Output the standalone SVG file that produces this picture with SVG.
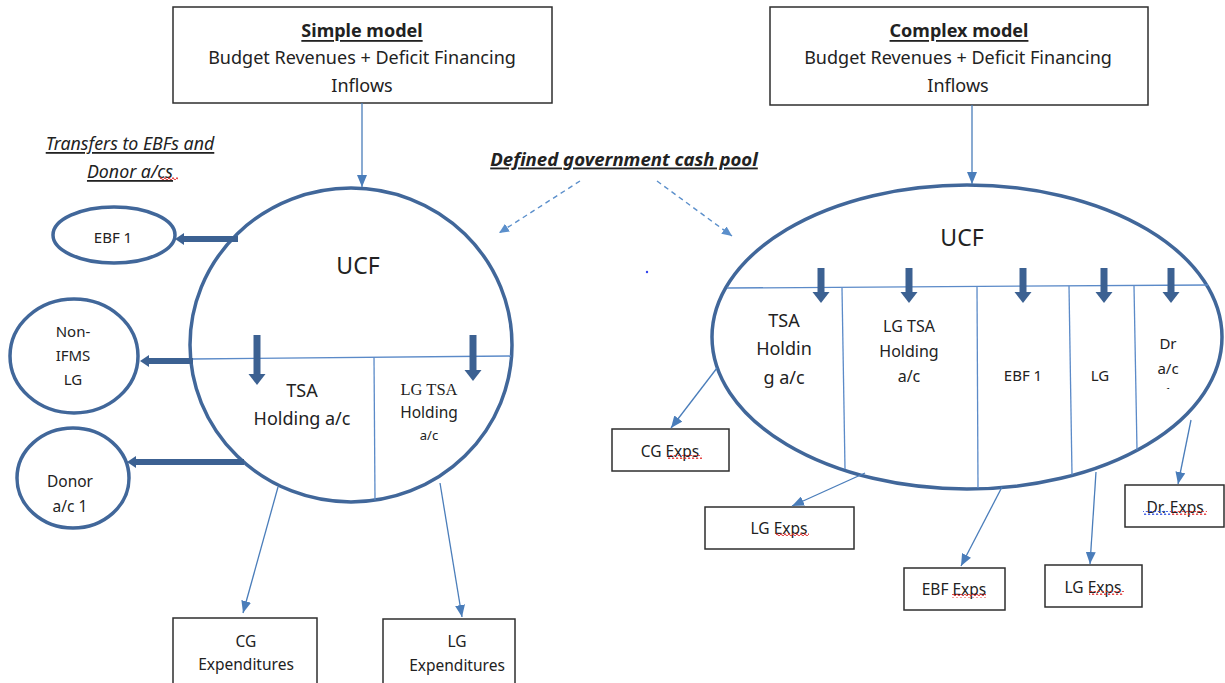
<svg xmlns="http://www.w3.org/2000/svg" width="1225" height="683" viewBox="0 0 1225 683">
<defs>
<style>
text{font-family:"Noto Sans","Open Sans",sans-serif;fill:#222;text-anchor:middle;dominant-baseline:central;font-size:15px}
.box{fill:#fff;stroke:#2e2e2e;stroke-width:1.5}
.ring{fill:#fff;stroke:#41679A;stroke-width:3.5}
.thin{fill:none;stroke:#4A7DBA;stroke-width:1.3}
.div{fill:none;stroke:#5B8AC8;stroke-width:1.3}
.thick{fill:none;stroke:#3C6192;stroke-width:7}
.side{fill:none;stroke:#3C6192;stroke-width:6}
.dash{fill:none;stroke:#5B8FCB;stroke-width:1.4;stroke-dasharray:5 4}
.ttl{font-weight:bold;text-decoration:underline;font-size:18px}
.big{font-size:18px}
.ucf{font-size:23px}
.it{font-style:italic;text-decoration:underline;font-size:17.8px}
.pool{font-style:italic;font-weight:bold;text-decoration:underline;font-size:18.6px}
.serif{font-family:"Liberation Serif",serif;font-size:16.5px}
</style>
<marker id="ah" markerUnits="userSpaceOnUse" markerWidth="12" markerHeight="10" refX="12" refY="5" orient="auto"><path d="M0,0 L12,5 L0,10 z" fill="#4A7DBA"/></marker>
<marker id="ahd" markerUnits="userSpaceOnUse" markerWidth="10" markerHeight="9" refX="10" refY="4.5" orient="auto"><path d="M0,0 L10,4.5 L0,9 z" fill="#5B8FCB"/></marker>
<marker id="hd" markerUnits="userSpaceOnUse" markerWidth="11" markerHeight="17" refX="0" refY="8.5" orient="auto" overflow="visible"><path d="M0,0 L11,8.5 L0,17 z" fill="#3C6192"/></marker>
<marker id="hs" markerUnits="userSpaceOnUse" markerWidth="9" markerHeight="12" refX="0" refY="6" orient="auto" overflow="visible"><path d="M0,0 L9,6 L0,12 z" fill="#3C6192"/></marker>
<pattern id="wr" width="4" height="4" patternUnits="userSpaceOnUse"><path d="M0,3 Q1,0 2,3 T4,3" fill="none" stroke="#e02828" stroke-width="1"/></pattern>
<pattern id="wb" width="4" height="4" patternUnits="userSpaceOnUse"><path d="M0,3 Q1,0 2,3 T4,3" fill="none" stroke="#2848e0" stroke-width="1"/></pattern>
<clipPath id="clip1"><rect x="1150" y="380" width="40" height="9"/></clipPath>
</defs>
<rect width="1225" height="683" fill="#fff"/>

<g id="simple-model">
<rect class="box" x="173" y="7" width="379" height="96"/>
<text class="ttl" x="362" y="30">Simple model</text>
<text class="big" x="362" y="57">Budget Revenues + Deficit Financing</text>
<text class="big" x="362" y="85">Inflows</text>
</g>
<g id="complex-model">
<rect class="box" x="770" y="7" width="378" height="98"/>
<text class="ttl" x="959" y="30">Complex model</text>
<text class="big" x="958" y="57">Budget Revenues + Deficit Financing</text>
<text class="big" x="958" y="85">Inflows</text>
</g>

<g id="transfers-label">
<text class="it" x="130" y="143">Transfers to EBFs and</text>
<text class="it" x="130" y="171">Donor a/cs</text>
<rect x="160" y="177" width="18" height="4" fill="url(#wr)"/>
</g>
<g id="pool-label">
<text class="pool" x="624" y="158">Defined government cash pool</text>
</g>
<circle cx="647" cy="272" r="1.2" fill="#3344ee"/>

<g id="ucf-simple">
<ellipse class="ring" cx="351" cy="345" rx="161" ry="157"/>
<line class="div" x1="192" y1="359" x2="511" y2="356"/>
<line class="div" x1="374" y1="357" x2="375" y2="500"/>
<text class="ucf" x="358" y="265">UCF</text>
<text class="big" x="302" y="390">TSA</text>
<text class="big" x="302" y="418">Holding a/c</text>
<text class="serif" x="429" y="389">LG TSA</text>
<text x="429" y="412" style="font-size:15.5px">Holding</text>
<text x="429" y="435" style="font-size:13px">a/c</text>
</g>

<g id="ebf1">
<ellipse class="ring" cx="114" cy="235" rx="61" ry="28"/>
<text x="113" y="237">EBF 1</text>
</g>
<g id="non-ifms-lg">
<ellipse class="ring" cx="74" cy="356" rx="64" ry="57"/>
<text x="73" y="331">Non-</text>
<text x="73" y="355">IFMS</text>
<text x="73" y="379">LG</text>
</g>
<g id="donor-ac1">
<ellipse class="ring" cx="73" cy="478" rx="56" ry="50"/>
<text x="70" y="481" style="font-size:15.5px">Donor</text>
<text x="70" y="506" style="font-size:15.5px">a/c 1</text>
</g>

<g id="cg-expenditures">
<rect class="box" x="173" y="618" width="144" height="80"/>
<text x="246" y="641" style="font-size:15.5px">CG</text>
<text x="246" y="664" style="font-size:15.5px">Expenditures</text>
</g>
<g id="lg-expenditures">
<rect class="box" x="383" y="619" width="132" height="80"/>
<text x="457" y="641" style="font-size:15.5px">LG</text>
<text x="457" y="665" style="font-size:15.5px">Expenditures</text>
</g>

<g id="ucf-complex">
<ellipse class="ring" cx="967" cy="337" rx="255" ry="152"/>
<line class="div" x1="727" y1="288" x2="1208" y2="285"/>
<line class="div" x1="842" y1="288" x2="845" y2="469"/>
<line class="div" x1="977" y1="287" x2="978" y2="488"/>
<line class="div" x1="1069" y1="286" x2="1072" y2="475"/>
<line class="div" x1="1134" y1="286" x2="1137" y2="450"/>
<text class="ucf" x="962" y="237">UCF</text>
<text class="big" x="784" y="320">TSA</text>
<text class="big" x="784" y="348">Holdin</text>
<text class="big" x="784" y="377">g a/c</text>
<text x="909" y="326" style="font-size:16px">LG TSA</text>
<text x="909" y="351" style="font-size:16px">Holding</text>
<text x="909" y="376" style="font-size:16px">a/c</text>
<text x="1023" y="375">EBF 1</text>
<text x="1100" y="375">LG</text>
<text x="1168" y="343">Dr</text>
<text x="1168" y="368">a/c</text>
<text x="1168" y="392" clip-path="url(#clip1)">1</text>
</g>

<g id="cg-exps">
<rect class="box" x="612" y="429" width="117" height="42"/>
<text x="670" y="451" style="font-size:15.5px">CG Exps</text>
<rect x="667" y="455" width="35" height="4" fill="url(#wr)"/>
</g>
<g id="lg-exps-1">
<rect class="box" x="705" y="507" width="149" height="42"/>
<text x="779" y="528" style="font-size:15.5px">LG Exps</text>
<rect x="776" y="532" width="33" height="4" fill="url(#wr)"/>
</g>
<g id="ebf-exps">
<rect class="box" x="904" y="568" width="101" height="42"/>
<text x="954" y="589" style="font-size:15.5px">EBF Exps</text>
<rect x="952" y="594" width="34" height="4" fill="url(#wr)"/>
</g>
<g id="lg-exps-2">
<rect class="box" x="1045" y="565" width="97" height="42"/>
<text x="1093" y="587" style="font-size:15.5px">LG Exps</text>
<rect x="1089" y="591" width="35" height="4" fill="url(#wr)"/>
</g>
<g id="dr-exps">
<rect class="box" x="1125" y="485" width="99" height="42"/>
<text x="1175" y="507" style="font-size:15.5px">Dr. Exps</text>
<rect x="1143" y="511" width="28" height="4" fill="url(#wb)"/>
<rect x="1171" y="511" width="36" height="4" fill="url(#wr)"/>
</g>

<g id="connectors">
<line class="thin" x1="362" y1="103" x2="362" y2="187" marker-end="url(#ah)"/>
<line class="thin" x1="972" y1="105" x2="972" y2="184" marker-end="url(#ah)"/>
<line class="dash" x1="580" y1="181" x2="499" y2="233" marker-end="url(#ahd)"/>
<line class="dash" x1="657" y1="181" x2="732" y2="236" marker-end="url(#ahd)"/>
<line class="thin" x1="278" y1="487" x2="243" y2="613" marker-end="url(#ah)"/>
<line class="thin" x1="440" y1="483" x2="462" y2="617" marker-end="url(#ah)"/>
<line class="thin" x1="717" y1="368" x2="671" y2="428" marker-end="url(#ah)"/>
<line class="thin" x1="865" y1="473" x2="792" y2="506" marker-end="url(#ah)"/>
<line class="thin" x1="1002" y1="487" x2="961" y2="566" marker-end="url(#ah)"/>
<line class="thin" x1="1096" y1="472" x2="1090" y2="564" marker-end="url(#ah)"/>
<line class="thin" x1="1191" y1="420" x2="1178" y2="484" marker-end="url(#ah)"/>
<line class="side" x1="238" y1="239" x2="184" y2="239" marker-end="url(#hs)"/>
<line class="side" x1="193" y1="361" x2="149" y2="361" marker-end="url(#hs)"/>
<line class="side" x1="244" y1="462" x2="136" y2="462" marker-end="url(#hs)"/>
<line class="thick" x1="257" y1="335" x2="257" y2="374" marker-end="url(#hd)"/>
<line class="thick" x1="473" y1="335" x2="473" y2="370" marker-end="url(#hd)"/>
<line class="thick" x1="821" y1="268" x2="821" y2="292" marker-end="url(#hd)"/>
<line class="thick" x1="909" y1="268" x2="909" y2="292" marker-end="url(#hd)"/>
<line class="thick" x1="1023" y1="268" x2="1023" y2="292" marker-end="url(#hd)"/>
<line class="thick" x1="1104" y1="268" x2="1104" y2="292" marker-end="url(#hd)"/>
<line class="thick" x1="1171" y1="268" x2="1171" y2="292" marker-end="url(#hd)"/>
</g>
</svg>
